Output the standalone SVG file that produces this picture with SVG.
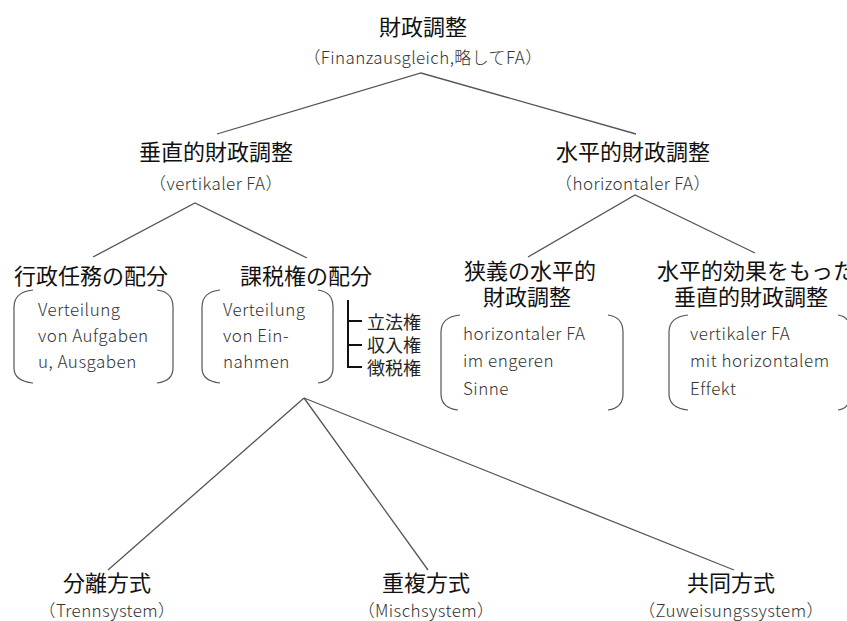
<svg xmlns="http://www.w3.org/2000/svg" width="847" height="621" viewBox="0 0 847 621">
<style>
.h{font-family:"Noto Sans CJK JP","Noto Sans",sans-serif;font-size:22px;fill:#111;text-anchor:middle}
.s{font-family:"Noto Sans CJK JP","Noto Sans",sans-serif;font-size:17px;fill:#333;text-anchor:middle;font-weight:300;letter-spacing:0.4px}
.t{font-family:"Noto Sans CJK JP","Noto Sans",sans-serif;font-size:17px;fill:#333;font-weight:300;letter-spacing:0.5px}
.k{font-family:"Noto Sans CJK JP",sans-serif;font-size:18px;fill:#222}
.ln{stroke:#555;stroke-width:1.3;fill:none}
.br{stroke:#555;stroke-width:1.2;fill:none}
</style>
<rect width="847" height="621" fill="#fff"/>
<g id="connectors">
<polyline class="ln" points="217,134 421,73 636,134"/>
<polyline class="ln" points="93,257 195,203 307,258"/>
<polyline class="ln" points="528,257 635,195 755,253"/>
<line class="ln" x1="304" y1="398" x2="108" y2="570"/>
<line class="ln" x1="304" y1="398" x2="428" y2="570"/>
<line class="ln" x1="304" y1="398" x2="734" y2="570"/>
</g>
<g id="root">
<text class="h" x="423" y="35">財政調整</text>
<text class="s" x="423" y="64">（Finanzausgleich,略してFA）</text>
</g>
<g id="vertical">
<text class="h" x="216" y="160">垂直的財政調整</text>
<text class="s" x="216" y="190">（vertikaler FA）</text>
</g>
<g id="horizontal">
<text class="h" x="633" y="160">水平的財政調整</text>
<text class="s" x="633" y="190">（horizontaler FA）</text>
</g>
<g id="gyosei">
<text class="h" x="91" y="284">行政任務の配分</text>
<path class="br" d="M33,290 Q14,292 14,307 L14,368 Q14,381 33,383"/>
<path class="br" d="M157,290 Q173,292 173,307 L173,368 Q173,381 157,383"/>
<text class="t" x="38" y="316">Verteilung</text>
<text class="t" x="38" y="342">von Aufgaben</text>
<text class="t" x="38" y="368">u, Ausgaben</text>
</g>
<g id="kazei">
<text class="h" x="306" y="284">課税権の配分</text>
<path class="br" d="M220,290 Q202,292 202,307 L202,368 Q202,381 220,383"/>
<path class="br" d="M318,290 Q333,292 333,307 L333,368 Q333,381 318,383"/>
<text class="t" x="223" y="316">Verteilung</text>
<text class="t" x="223" y="342">von Ein-</text>
<text class="t" x="223" y="368">nahmen</text>
<path d="M348,300 L348,367 L362,367 M348,321 L362,321 M348,345 L362,345" stroke="#111" stroke-width="2" fill="none"/>
<text class="k" x="367" y="329">立法権</text>
<text class="k" x="367" y="352">収入権</text>
<text class="k" x="367" y="375">徴税権</text>
</g>
<g id="kyogi">
<text class="h" x="530" y="279">狭義の水平的</text>
<text class="h" x="527" y="305">財政調整</text>
<path class="br" d="M460,315 Q441,317 441,332 L441,394 Q441,408 458,410"/>
<path class="br" d="M608,315 Q623,317 623,332 L623,394 Q623,408 608,410"/>
<text class="t" x="463" y="340">horizontaler  FA</text>
<text class="t" x="463" y="367">im engeren</text>
<text class="t" x="463" y="395">Sinne</text>
</g>
<g id="suihei-koka">
<text class="h" x="657" y="279" style="text-anchor:start">水平的効果をもった</text>
<text class="h" x="751" y="305">垂直的財政調整</text>
<path class="br" d="M688,315 Q669,317 669,332 L669,394 Q669,408 688,410"/>
<path class="br" d="M838,315 Q845,316 847,320 M838,410 Q845,409 847,405"/>
<text class="t" x="690" y="340">vertikaler  FA</text>
<text class="t" x="690" y="367">mit horizontalem</text>
<text class="t" x="690" y="395">Effekt</text>
</g>
<g id="bunri">
<text class="h" x="107" y="591">分離方式</text>
<text class="s" x="107" y="617">（Trennsystem）</text>
</g>
<g id="chofuku">
<text class="h" x="426" y="591">重複方式</text>
<text class="s" x="426" y="617">（Mischsystem）</text>
</g>
<g id="kyodo">
<text class="h" x="731" y="591">共同方式</text>
<text class="s" x="731" y="617">（Zuweisungssystem）</text>
</g>
</svg>
